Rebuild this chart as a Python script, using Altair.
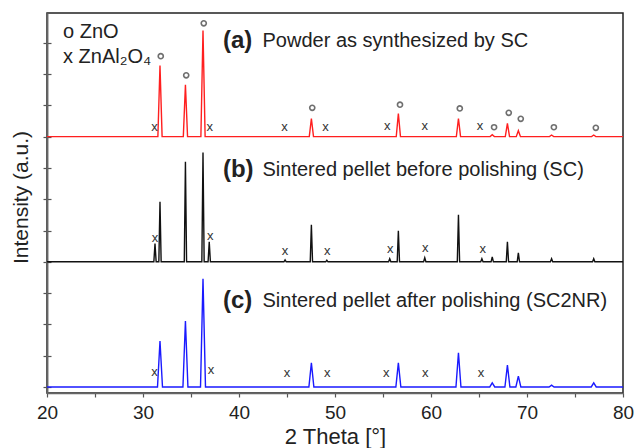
import altair as alt
import pandas as pd

# ---------------- data ----------------
# 2-theta axis
x_min, x_max = 20, 80

# peak positions (deg) and heights (a.u.) for each pattern
red_pos = [31.77, 34.42, 36.25, 47.54, 56.60, 62.86, 66.38, 67.96, 69.10, 72.56, 76.95]
red_h = [2270, 1660, 3390, 580, 740, 580, 60, 420, 190, 50, 50]

black_pos = [31.25, 31.77, 34.42, 36.25, 36.90, 44.80, 47.54, 49.15, 55.70, 56.60,
             59.35, 62.86, 65.30, 66.38, 67.96, 69.10, 72.56, 76.95]
black_h = [580, 1920, 3200, 3490, 640, 60, 1180, 50, 100, 990,
           130, 1500, 100, 160, 640, 290, 100, 100]

blue_pos = [31.77, 34.42, 36.25, 47.54, 56.60, 62.86, 66.38, 67.96, 69.10, 72.56, 76.95]
blue_h = [1470, 2110, 3460, 770, 770, 1090, 130, 700, 350, 60, 130]

# vertical offsets of the stacked patterns
offsets = {"a": 8000, "b": 4000, "c": 0}
half_width = {"a": 0.22, "b": 0.12, "c": 0.26}

# phase markers
zno_x = [31.85, 34.50, 36.33, 47.63, 56.77, 63.00, 66.57, 68.10, 69.35, 72.80, 77.17]
zno_y = [10570, 9960, 11620, 8920, 9020, 8900, 8300, 8760, 8570, 8300, 8280]

spinel_a_x = [31.19, 36.96, 44.75, 49.00, 55.45, 59.35, 65.10]
spinel_a_y = [8320, 8320, 8320, 8320, 8340, 8340, 8340]
spinel_b_x = [31.25, 37.00, 44.80, 49.20, 55.76, 59.40, 65.40]
spinel_b_y = [4770, 4830, 4360, 4330, 4420, 4450, 4420]
spinel_c_x = [31.20, 37.08, 45.00, 49.20, 55.35, 59.40, 65.20]
spinel_c_y = [490, 540, 440, 440, 460, 460, 440]

labels_tag = ["(a)", "(b)", "(c)"]
labels_text = ["Powder as synthesized by SC",
               "Sintered pellet before polishing (SC)",
               "Sintered pellet after polishing (SC2NR)"]
labels_y = [11050, 6920, 2760]
tag_x = 38.33
text_x = 42.45

legend_text = ["o ZnO", "x ZnAl\u2082O\u2084"]
legend_y = [11330, 10540]
legend_x = 21.67

y_ticks = list(range(0, 12000, 1000))

# ---------------- build line table ----------------
rows = []
for key, pos, hts in [("a", red_pos, red_h), ("b", black_pos, black_h), ("c", blue_pos, blue_h)]:
    off = offsets[key]
    w = half_width[key]
    pts = [(x_min, off), (x_max, off)]
    for p, h in zip(pos, hts):
        pts += [(p - w, off), (p, off + h), (p + w, off)]
    pts.sort()
    for i, (x, y) in enumerate(pts):
        rows.append({"x": x, "y": y, "series": key, "i": i})
lines_df = pd.DataFrame(rows)

FONT = "Liberation Sans"
TXT = "#222222"

x_scale = alt.Scale(domain=[x_min, x_max], nice=False, zero=False)
y_scale = alt.Scale(domain=[-192, 11950], nice=False, zero=False)

x_axis = alt.Axis(
    values=list(range(20, 81, 5)),
    labelExpr="datum.value % 10 == 0 ? datum.label : ''",
    labelFlush=False, labelOverlap=False,
    tickSize=4, tickColor="#555555", tickWidth=1.2,
    domainColor="#666666", domainWidth=1.5,
    labelFont=FONT, labelFontSize=19, labelColor=TXT, labelPadding=6,
    title="2 Theta [°]", titleFont=FONT, titleFontSize=22, titleFontWeight="normal",
    titleColor=TXT, titleBaseline="middle", titleY=43, grid=False,
)
y_axis = alt.Axis(
    values=y_ticks, labels=False, tickSize=4, tickColor="#555555", tickWidth=1.2,
    domainColor="#666666", domainWidth=1.5, grid=False,
    title="Intensity (a.u.)", titleFont=FONT, titleFontSize=21, titleFontWeight="normal",
    titleColor=TXT, titleBaseline="middle", titleX=-26, titleY=184,
)
y_axis_right = alt.Axis(
    values=y_ticks, labels=False, tickSize=4, tickColor="#555555", tickWidth=1.2,
    domainColor="#666666", domainWidth=1.5, grid=False, title=None,
    offset=-576,
)

lines = alt.Chart(lines_df).mark_line(strokeWidth=1.4).encode(
    x=alt.X("x:Q", scale=x_scale, axis=x_axis),
    y=alt.Y("y:Q", scale=y_scale, axis=y_axis),
    color=alt.Color("series:N", scale=alt.Scale(domain=["a", "b", "c"],
                                               range=["#ff1f1f", "#111111", "#1a1aff"]),
                    legend=None),
    order="i:Q",
)

right_axis = alt.Chart(lines_df).mark_point(opacity=0).encode(
    x=alt.X("x:Q", scale=x_scale, axis=None),
    y=alt.Y("y:Q", scale=y_scale, axis=y_axis_right),
)

zno_df = pd.DataFrame({"x": zno_x, "y": zno_y})
zno = alt.Chart(zno_df).mark_point(shape="circle", filled=False, size=26,
                                   strokeWidth=1.6, color="#333333").encode(
    x=alt.X("x:Q", scale=x_scale, axis=None),
    y=alt.Y("y:Q", scale=y_scale, axis=None),
)

sp_df = pd.DataFrame({
    "x": spinel_a_x + spinel_b_x + spinel_c_x,
    "y": spinel_a_y + spinel_b_y + spinel_c_y,
})
spinel = alt.Chart(sp_df).mark_text(text="x", font=FONT, fontSize=13, color="#333333",
                                    baseline="middle").encode(
    x=alt.X("x:Q", scale=x_scale, axis=None),
    y=alt.Y("y:Q", scale=y_scale, axis=None),
)

tag_df = pd.DataFrame({"x": [tag_x] * 3, "y": labels_y, "t": labels_tag})
tags = alt.Chart(tag_df).mark_text(font=FONT, fontSize=24, fontWeight="bold", color=TXT,
                                   align="left", baseline="middle").encode(
    x=alt.X("x:Q", scale=x_scale, axis=None),
    y=alt.Y("y:Q", scale=y_scale, axis=None),
    text="t:N",
)
desc_df = pd.DataFrame({"x": [text_x] * 3, "y": labels_y, "t": labels_text})
descs = alt.Chart(desc_df).mark_text(font=FONT, fontSize=20, color=TXT,
                                     align="left", baseline="middle").encode(
    x=alt.X("x:Q", scale=x_scale, axis=None),
    y=alt.Y("y:Q", scale=y_scale, axis=None),
    text="t:N",
)
leg_df = pd.DataFrame({"x": [legend_x] * 2, "y": legend_y, "t": legend_text})
legend = alt.Chart(leg_df).mark_text(font=FONT, fontSize=20, color=TXT,
                                     align="left", baseline="middle").encode(
    x=alt.X("x:Q", scale=x_scale, axis=None),
    y=alt.Y("y:Q", scale=y_scale, axis=None),
    text="t:N",
)

chart = alt.layer(lines, right_axis, zno, spinel, tags, descs, legend).resolve_axis(
    x="independent", y="independent"
).properties(
    width=576, height=380,
    autosize=alt.AutoSizeParams(type="none"),
    padding={"left": 47, "top": 13, "right": 12, "bottom": 55},
    background="white",
).configure_view(stroke="#222222", strokeWidth=1.5)

chart.save("out.html", embed_options={"renderer": "svg", "actions": False})
